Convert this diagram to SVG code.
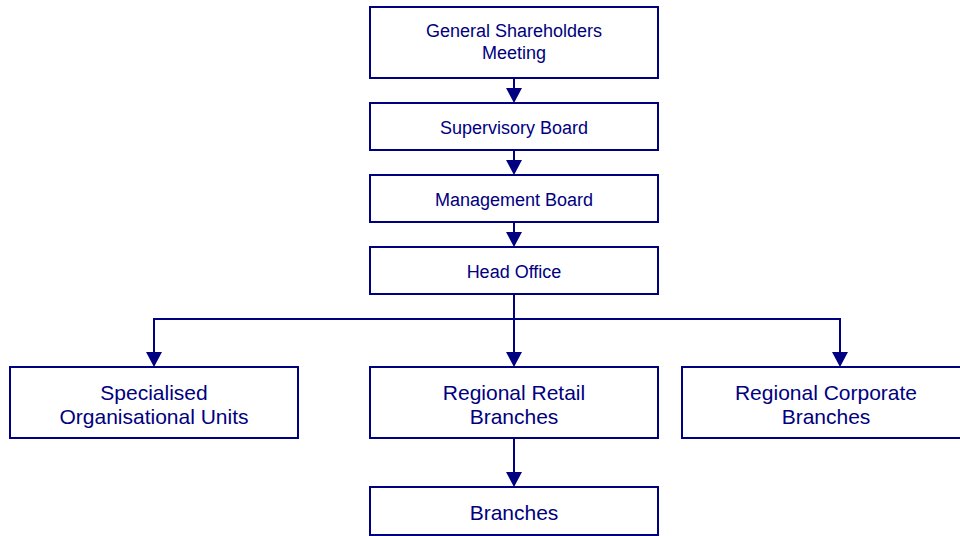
<svg xmlns="http://www.w3.org/2000/svg" width="960" height="536" viewBox="0 0 960 536">
<style>
.box{fill:#fff;stroke:#000080;stroke-width:2}
.t{font-family:"Liberation Sans",Arial,sans-serif;fill:#000080;text-anchor:middle}
.s{font-size:18px}
.l{font-size:21px}
.c{fill:none;stroke:#000080;stroke-width:2}
.a{fill:#000080}
</style>
<rect width="960" height="536" fill="#fff"/>
<g id="connectors">
<line class="c" x1="514" y1="78" x2="514" y2="90"/>
<polygon class="a" points="506,88 522,88 514,103"/>
<line class="c" x1="514" y1="150" x2="514" y2="162"/>
<polygon class="a" points="506,160 522,160 514,175"/>
<line class="c" x1="514" y1="222" x2="514" y2="234"/>
<polygon class="a" points="506,232 522,232 514,247"/>
<line class="c" x1="514" y1="294" x2="514" y2="354"/>
<polygon class="a" points="506,352 522,352 514,367"/>
<polyline class="c" points="154,354 154,319 840,319 840,354"/>
<polygon class="a" points="146,352 162,352 154,367"/>
<polygon class="a" points="832,352 848,352 840,367"/>
<line class="c" x1="514" y1="438" x2="514" y2="474"/>
<polygon class="a" points="506,472 522,472 514,487"/>
</g>
<g id="gsm"><rect class="box" x="370" y="7" width="288" height="71"/><text class="t s" x="514" y="37">General Shareholders</text><text class="t s" x="514" y="59">Meeting</text></g>
<g id="supervisory"><rect class="box" x="370" y="103" width="288" height="47"/><text class="t s" x="514" y="134">Supervisory Board</text></g>
<g id="management"><rect class="box" x="370" y="175" width="288" height="47"/><text class="t s" x="514" y="206">Management Board</text></g>
<g id="headoffice"><rect class="box" x="370" y="247" width="288" height="47"/><text class="t s" x="514" y="278">Head Office</text></g>
<g id="specialised"><rect class="box" x="10" y="367" width="288" height="71"/><text class="t l" x="154" y="400">Specialised</text><text class="t l" x="154" y="424">Organisational Units</text></g>
<g id="retail"><rect class="box" x="370" y="367" width="288" height="71"/><text class="t l" x="514" y="400">Regional Retail</text><text class="t l" x="514" y="424">Branches</text></g>
<g id="corporate"><rect class="box" x="682" y="367" width="288" height="71"/><text class="t l" x="826" y="400">Regional Corporate</text><text class="t l" x="826" y="424">Branches</text></g>
<g id="branches"><rect class="box" x="370" y="487" width="288" height="48"/><text class="t l" x="514" y="520">Branches</text></g>
</svg>
